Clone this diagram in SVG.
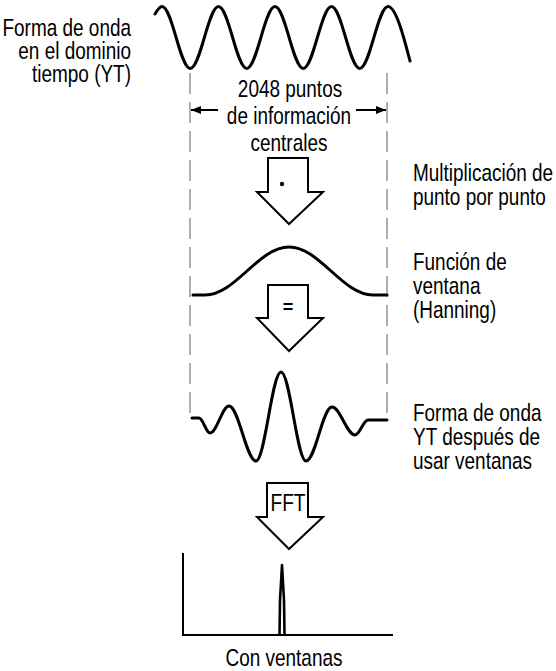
<svg xmlns="http://www.w3.org/2000/svg" width="556" height="671" viewBox="0 0 556 671">
<defs>
<style>
text{font-family:"Liberation Sans",Arial,sans-serif;font-size:24px;fill:#000}
.wave{fill:none;stroke:#000;stroke-width:3;stroke-linejoin:round;stroke-linecap:round}
.dash{stroke:#9a9a9a;stroke-width:1.6;stroke-dasharray:21 8;fill:none}
.big{fill:#fff;stroke:#000;stroke-width:2;stroke-linejoin:miter}
.ln{stroke:#000;stroke-width:2;fill:none}
.axis{stroke:#000;stroke-width:2;fill:none}
</style>
<marker id="ah" viewBox="0 0 10 8" refX="10" refY="4" markerWidth="10" markerHeight="8" markerUnits="userSpaceOnUse" orient="auto">
<path d="M0,0 L10,4 L0,8 Z" fill="#000"/>
</marker>
</defs>
<rect width="556" height="671" fill="#fff"/>

<g id="label-yt">
<text transform="translate(131,36) scale(0.79,1)" text-anchor="end">Forma de onda</text>
<text transform="translate(131,59) scale(0.79,1)" text-anchor="end">en el dominio</text>
<text transform="translate(131,82) scale(0.79,1)" text-anchor="end">tiempo (YT)</text>
</g>

<g id="wave-yt">
<path class="wave" d="M155,14 C158,9 160,6.5 162,6.5 C172.29,6.5 179.96,68.5 190.25,68.5 C200.54,68.5 208.21,6.5 218.5,6.5 C228.79,6.5 236.46,68.5 246.75,68.5 C257.04,68.5 264.71,6.5 275,6.5 C285.29,6.5 292.96,68.5 303.25,68.5 C313.54,68.5 321.21,6.5 331.5,6.5 C341.79,6.5 349.46,68.5 359.75,68.5 C370.04,68.5 377.71,6.5 388,6.5 C396,6.5 404,38 410,61"/>
</g>

<g id="bounds">
<line class="dash" x1="190" y1="73" x2="190" y2="413"/>
<line class="dash" x1="387" y1="73" x2="387" y2="413"/>
</g>

<g id="label-center">
<text transform="translate(290,97) scale(0.79,1)" text-anchor="middle">2048 puntos</text>
<text transform="translate(289,124) scale(0.79,1)" text-anchor="middle">de información</text>
<text transform="translate(289,151) scale(0.79,1)" text-anchor="middle">centrales</text>
</g>

<g id="label-mult">
<text transform="translate(413,181) scale(0.79,1)">Multiplicación de</text>
<text transform="translate(413,205) scale(0.79,1)">punto por punto</text>
</g>

<g id="wave-hanning">
<path class="wave" d="M193,295 L205,295 C235.6,295 258.4,247 289,247 C319.6,247 342.4,295 373,295 L387,295"/>
</g>

<g id="label-hanning">
<text transform="translate(413,270) scale(0.79,1)">Función de</text>
<text transform="translate(413,294) scale(0.79,1)">ventana</text>
<text transform="translate(413,318) scale(0.79,1)">(Hanning)</text>
</g>

<g id="wave-windowed">
<path class="wave" d="M192,418 L199,418 C203,418 206,433 210,433 C216.8,433 222.2,406 229,406 C238.7,406 246.3,461 256,461 C265,461 272,372 281,372 C290,372 297,461 306,461 C315.4,461 322.6,407 332,407 C340.3,407 346.7,435 355,435 C359.7,435 363.3,420 368,420 L387,420"/>
</g>

<g id="label-windowed">
<text transform="translate(413,421) scale(0.79,1)">Forma de onda</text>
<text transform="translate(413,445) scale(0.79,1)">YT después de</text>
<text transform="translate(413,469) scale(0.79,1)">usar ventanas</text>
</g>

<g id="spectrum">
<path class="axis" d="M183,553 L183,635 L393,635"/>
<path d="M279.5,635 L280,600 L282,565 L284,600 L284.5,635" fill="none" stroke="#000" stroke-width="2.6" stroke-linejoin="round"/>
<text transform="translate(284,666) scale(0.79,1)" text-anchor="middle">Con ventanas</text>
</g>

<g id="connectors">
<line class="ln" x1="218" y1="110" x2="191" y2="110" marker-end="url(#ah)"/>
<line class="ln" x1="356" y1="110" x2="386" y2="110" marker-end="url(#ah)"/>
<g id="arrow-mult">
<polygon class="big" points="268,158 308,158 308,192 323,192 289,224 257,192 268,192"/>
<circle cx="282" cy="184" r="2.2" fill="#000"/>
</g>
<g id="arrow-eq">
<polygon class="big" points="268,285 308,285 308,318 323,318 289,351 257,318 268,318"/>
<text x="288" y="313" text-anchor="middle" style="font-size:18px;font-weight:bold">=</text>
</g>
<g id="arrow-fft">
<polygon class="big" points="267,483 308,483 308,517 323,517 289,549 257,517 267,517"/>
<text transform="translate(288,511) scale(0.8,1)" text-anchor="middle">FFT</text>
</g>
</g>
</svg>
